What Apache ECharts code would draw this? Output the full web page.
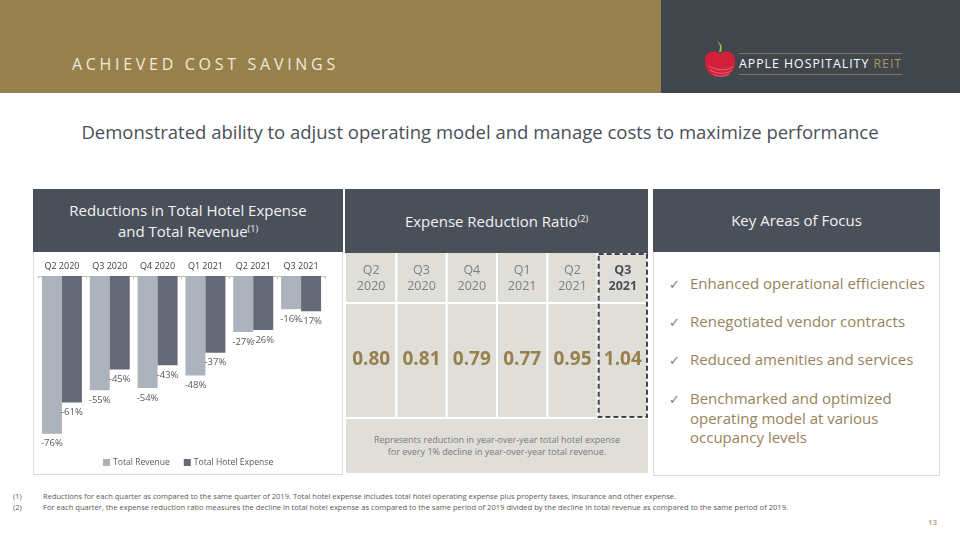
<!DOCTYPE html>
<html><head><meta charset="utf-8">
<script src="https://cdn.jsdelivr.net/npm/echarts@6/dist/echarts.min.js"></script>
<style>
html,body{margin:0;padding:0;background:#fff;}
#slide{position:relative;width:960px;height:540px;overflow:hidden;font-family:'Open Sans',sans-serif;}
.abs{position:absolute;}
.hdr{position:absolute;background:#4A505A;color:#F2F2F2;display:flex;align-items:center;justify-content:center;text-align:center;font-size:15px;line-height:21px;}
sup{font-size:9px;line-height:0;vertical-align:5px;}
.chk{position:absolute;left:669px;color:#8C7B57;font-size:13px;}
.li{position:absolute;left:690px;color:#97835A;font-size:15px;line-height:19.5px;white-space:nowrap;}
.fn{position:absolute;color:#595959;font-size:7.4px;white-space:nowrap;transform-origin:left center;}
#chart{position:absolute;left:0;top:0;width:960px;height:540px;}
</style></head>
<body>
<div id="slide">
  <div class="abs" style="left:0;top:0;width:661px;height:93px;background:#98804C"></div>
  <div class="abs" style="left:661px;top:0;width:299px;height:93px;background:#41464D"></div>
  <div class="abs" style="left:72px;top:53px;color:#EFE9DC;font-size:16px;letter-spacing:3.7px;line-height:22px;white-space:nowrap">ACHIEVED COST SAVINGS</div>
  <svg class="abs" style="left:700px;top:39px" width="40" height="44" viewBox="0 0 40 44">
    <path d="M19 13 C 21 8, 20 5, 17 2 C 21 4, 23 8, 21 13 Z" fill="#9DBF3B"/>
    <path d="M20 15 C 14 10, 6 12, 5 21 C 4 31, 12 40, 20 37 C 28 40, 36 31, 35 21 C 34 12, 26 10, 20 15 Z" fill="#D2203B"/>
    <path d="M9 27 C 16 31, 26 33, 34 27 M10 31 C 17 35, 26 36, 32 31 M13 35 C 18 38, 24 38, 29 35" stroke="#E8737F" stroke-width="0.8" fill="none"/>
  </svg>
  <div class="abs" style="left:739px;top:53px;width:163px;height:1px;background:#7C7662"></div>
  <div class="abs" style="left:739px;top:74px;width:163px;height:1px;background:#7C7662"></div>
  <div class="abs" style="left:739px;top:55px;color:#fff;font-size:12.3px;letter-spacing:1.0px;line-height:18px;white-space:nowrap">APPLE HOSPITALITY <span style="color:#A99263">REIT</span></div>

  <div class="abs" style="left:0;top:118px;width:960px;text-align:center;color:#4A4F58;font-size:18.5px;line-height:27px;white-space:nowrap">Demonstrated ability to adjust operating model and manage costs to maximize performance</div>

  <!-- left panel -->
  <div class="abs" style="left:33px;top:189px;width:308px;height:284px;border:1px solid #D9DCE0;"></div>
  <div class="hdr" style="left:33px;top:189px;width:310px;height:63px;"><div>Reductions in Total Hotel Expense<br>and Total Revenue<sup>(1)</sup></div></div>
  <!-- middle panel -->
  <div class="hdr" style="left:345px;top:189px;width:303px;height:64px;"><div>Expense Reduction Ratio<sup>(2)</sup></div></div>
  <div class="abs" style="left:346px;top:419px;width:302px;height:54px;background:#E0DED9;color:#7A7A7A;font-size:9px;line-height:12px;text-align:center;display:flex;align-items:center;justify-content:center;"><div>Represents reduction in year-over-year total hotel expense<br>for every 1% decline in year-over-year total revenue.</div></div>
  <!-- right panel -->
  <div class="abs" style="left:653px;top:189px;width:285px;height:285px;border:1px solid #D9DCE0;"></div>
  <div class="hdr" style="left:653px;top:189px;width:287px;height:63px;"><div>Key Areas of Focus</div></div>
  <div class="chk" style="top:275px">✓</div><div class="li" style="top:274px">Enhanced operational efficiencies</div>
  <div class="chk" style="top:313px">✓</div><div class="li" style="top:312px">Renegotiated vendor contracts</div>
  <div class="chk" style="top:351px">✓</div><div class="li" style="top:350px">Reduced amenities and services</div>
  <div class="chk" style="top:390px">✓</div><div class="li" style="top:389px">Benchmarked and optimized<br>operating model at various<br>occupancy levels</div>

  <div class="fn" style="left:13px;top:491px">(1)</div>
  <div class="fn" id="fn1" style="left:43px;top:491px">Reductions for each quarter as compared to the same quarter of 2019. Total hotel expense includes total hotel operating expense plus property taxes, insurance and other expense.</div>
  <div class="fn" style="left:13px;top:502px">(2)</div>
  <div class="fn" id="fn2" style="left:43px;top:502px">For each quarter, the expense reduction ratio measures the decline in total hotel expense as compared to the same period of 2019 divided by the decline in total revenue as compared to the same period of 2019.</div>
  <div class="abs" style="left:928px;top:516px;color:#98804C;font-size:8px">13</div>

  <div id="chart"></div>
</div>
<script>
const quarters = ['Q2 2020', 'Q3 2020', 'Q4 2020', 'Q1 2021', 'Q2 2021', 'Q3 2021'];
const totalRevenue = [-76, -55, -54, -48, -27, -16];
const totalHotelExpense = [-61, -45, -43, -37, -26, -17];
const expenseReductionRatio = [0.80, 0.81, 0.79, 0.77, 0.95, 1.04];
const highlightQuarter = 'Q3 2021';

// scale footnotes to target widths
[['fn1', 633], ['fn2', 745]].forEach(([id, w]) => {
  const el = document.getElementById(id);
  const cw = el.getBoundingClientRect().width;
  el.style.transform = 'scaleX(' + (w / cw) + ')';
});

const chart = echarts.init(document.getElementById('chart'), null, {renderer: 'canvas'});
const FONT = 'Open Sans';
const labelStyle = {show: true, position: 'bottom', distance: 5, formatter: '{c}%', fontSize: 9.5, color: '#595959', fontFamily: FONT};

chart.setOption({
  animation: false,
  textStyle: {fontFamily: FONT},
  legend: {
    data: ['Total Revenue', 'Total Hotel Expense'],
    left: 103, top: 458, padding: 0, itemWidth: 7, itemHeight: 7, itemGap: 14, icon: 'rect',
    textStyle: {fontSize: 8.6, color: '#595959', fontFamily: FONT, padding: [0, 0, 0, -2]}
  },
  grid: [
    {left: 38, top: 276, width: 287, height: 166},
    {left: 346, top: 253, width: 302, height: 164}
  ],
  xAxis: [
    {type: 'category', gridIndex: 0, data: quarters, position: 'top',
     axisLine: {lineStyle: {color: '#BFBFBF', width: 1}},
     axisTick: {show: true, inside: true, length: 3, lineStyle: {color: '#BFBFBF'}},
     axisLabel: {interval: 0, color: '#404040', fontSize: 9, margin: 5, fontFamily: FONT}},
    {type: 'category', gridIndex: 1, data: quarters, show: false}
  ],
  yAxis: [
    {type: 'value', gridIndex: 0, min: -80, max: 0, show: false},
    {type: 'value', gridIndex: 1, min: 0, max: 1, show: false}
  ],
  series: [
    {name: 'Total Revenue', type: 'bar', xAxisIndex: 0, yAxisIndex: 0, data: totalRevenue,
     barWidth: 20, barGap: '0%', itemStyle: {color: '#ADB3BC'}, label: labelStyle},
    {name: 'Total Hotel Expense', type: 'bar', xAxisIndex: 0, yAxisIndex: 0, data: totalHotelExpense,
     barWidth: 20, barGap: '0%', itemStyle: {color: '#646A76'}, label: labelStyle},
    {name: 'Expense Reduction Ratio', type: 'custom', xAxisIndex: 1, yAxisIndex: 1,
     data: expenseReductionRatio.map((v, i) => [i, v]),
     renderItem: function (params, api) {
       const i = api.value(0);
       const v = api.value(1);
       const bw = api.size([1, 0])[0];
       const cx = api.coord([i, 0])[0];
       const yTop = api.coord([i, 1])[1];
       const ySplit = api.coord([i, 0.695])[1];
       const yBot = api.coord([i, 0])[1];
       const x0 = cx - bw / 2;
       const q = quarters[i].split(' ');
       const hl = quarters[i] === highlightQuarter;
       const children = [
         {type: 'rect', shape: {x: x0 + (i === 0 ? 0 : 1), y: yTop, width: bw - (i === 0 ? 1 : 2), height: ySplit - yTop - 1}, style: {fill: '#E0DED9'}},
         {type: 'rect', shape: {x: x0 + (i === 0 ? 0 : 1), y: ySplit + 1, width: bw - (i === 0 ? 1 : 2), height: yBot - ySplit - 1}, style: {fill: '#E0DED9'}},
         {type: 'text', style: {x: cx, y: (yTop + ySplit) / 2, text: q[0] + '\n' + q[1], align: 'center', verticalAlign: 'middle',
           fontSize: 12.5, lineHeight: 16, fontFamily: FONT, fontWeight: hl ? 'bold' : 'normal', fill: hl ? '#4A4F58' : '#7F7F7F'}},
         {type: 'text', style: {x: cx, y: (ySplit + yBot) / 2, text: v.toFixed(2), align: 'center', verticalAlign: 'middle',
           fontSize: 19, fontFamily: FONT, fontWeight: 'bold', fill: '#98804C'}}
       ];
       if (hl) {
         children.push({type: 'rect', shape: {x: x0 + 1, y: yTop + 1, width: bw - 2, height: yBot - yTop - 1},
           style: {fill: 'none', stroke: '#41464D', lineWidth: 2, lineDash: [5, 3]}});
       }
       return {type: 'group', children: children};
     }}
  ]
});
</script>
</body></html>
